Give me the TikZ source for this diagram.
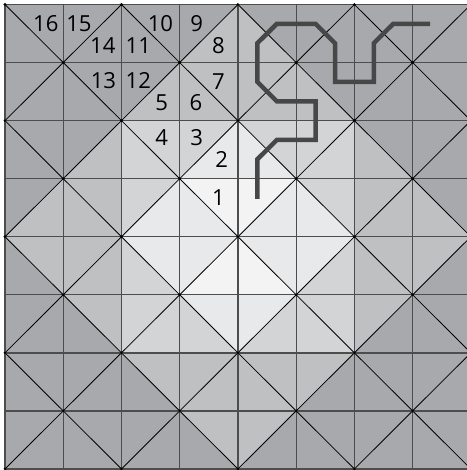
\documentclass[tikz,border=0pt]{standalone}
\usepackage{fontspec}
\setmainfont{Open Sans}
\usepackage{xcolor}
\definecolor{lvl0}{HTML}{F3F3F4}
\definecolor{lvl1}{HTML}{E8E9EA}
\definecolor{lvl2}{HTML}{D3D4D6}
\definecolor{lvl3}{HTML}{BFC0C2}
\definecolor{lvl4}{HTML}{A8A9AC}
\definecolor{gridgray}{HTML}{4D4D4D}
\definecolor{routegray}{HTML}{474747}
\tikzset{
  gridline/.style  = {draw=gridgray, line width=0.65pt},
  diagline/.style  = {draw=black, line width=0.4pt},
  vertexdot/.style = {fill=black},
  tnum/.style      = {inner sep=0pt, font=\fontsize{10.8}{13}\selectfont},
  route/.style     = {draw=routegray, line width=2.2pt, line join=miter}
}

\begin{document}
\begin{tikzpicture}[x=1cm, y=-0.997cm]
  \useasboundingbox (-0.086,-0.0775) rectangle (7.932,8.018);
  \fill[white] (-0.086,-0.0775) rectangle (7.932,8.018);
  \clip (-0.086,-0.0775) rectangle (7.932,8.018);
  % shade of upper/lower triangle in each cell, row by row
  \foreach \row [count=\j from 0] in {
    {4/4,4/4,4/4,4/3,4/3,4/4,4/4,4/4},
    {4/4,4/4,4/3,3/3,3/3,4/3,4/4,4/4},
    {4/4,4/3,2/2,2/1,2/1,2/2,4/3,4/4},
    {4/3,3/3,2/1,0/1,0/1,2/1,3/3,4/3},
    {3/4,3/3,1/2,1/0,1/0,1/2,3/3,3/4},
    {4/4,3/4,2/2,1/2,1/2,2/2,3/4,4/4},
    {4/4,4/4,3/4,3/3,3/3,3/4,4/4,4/4},
    {4/4,4/4,4/4,3/4,3/4,4/4,4/4,4/4}}
  {
    \foreach \up/\lo [count=\i from 0] in \row {
      \pgfmathtruncatemacro\odd{mod(\i+\j,2)}
      \ifnum\odd=0
        \fill[lvl\up] (\i,\j) -- ++(1,0) -- ++(0,1) -- cycle;
        \fill[lvl\lo] (\i,\j) -- ++(0,1) -- ++(1,0) -- cycle;
      \else
        \fill[lvl\up] (\i,\j) -- ++(1,0) -- ++(-1,1) -- cycle;
        \fill[lvl\lo] (\i+1,\j) -- ++(0,1) -- ++(-1,0) -- cycle;
      \fi
    }
  }
  % diagonals
  \foreach \i in {0,...,7}
    \foreach \j in {0,...,7} {
      \pgfmathtruncatemacro\odd{mod(\i+\j,2)}
      \ifnum\odd=0
        \draw[diagline] (\i,\j) -- ++(1,1);
      \else
        \draw[diagline] (\i,\j+1) -- ++(1,-1);
      \fi
    }
  % grid
  \foreach \k in {0,...,8} {
    \draw[gridline] (\k,0) -- (\k,8);
    \draw[gridline] (0,\k) -- (8,\k);
  }
  % vertices where diagonals meet
  \foreach \i in {0,...,8}
    \foreach \j in {0,...,8} {
      \pgfmathtruncatemacro\odd{mod(\i+\j,2)}
      \ifnum\odd=0 \fill[vertexdot] (\i,\j) circle (0.75pt); \fi
    }
  % triangle numbers
  \foreach \n/\x/\y in {1/3.667/3.333, 2/3.72/2.667, 3/3.29/2.3,
      4/2.69/2.3, 5/2.69/1.69, 6/3.28/1.69, 7/3.667/1.333,
      8/3.667/0.7, 9/3.29/0.333, 10/2.67/0.333, 11/2.29/0.7,
      12/2.29/1.31, 13/1.69/1.31, 14/1.68/0.7, 15/1.27/0.333,
      16/0.7/0.333}
    \node[tnum] (t\n) at (\x,\y) {\n};
  % route through triangle centres
  \foreach \x/\y [count=\k] in {4.333/3.35, 4.333/2.667, 4.667/2.333,
      5.333/2.333, 5.333/1.667, 4.667/1.667, 4.333/1.333, 4.333/0.667,
      4.667/0.333, 5.333/0.333, 5.667/0.667, 5.667/1.333, 6.333/1.333,
      6.333/0.667, 6.667/0.333, 7.3/0.333}
    \coordinate (r\k) at (\x,\y);
  \draw[route] (r1) -- (r2) -- (r3) -- (r4) -- (r5) -- (r6) -- (r7)
    -- (r8) -- (r9) -- (r10) -- (r11) -- (r12) -- (r13) -- (r14)
    -- (r15) -- (r16);
\end{tikzpicture}
\end{document}
